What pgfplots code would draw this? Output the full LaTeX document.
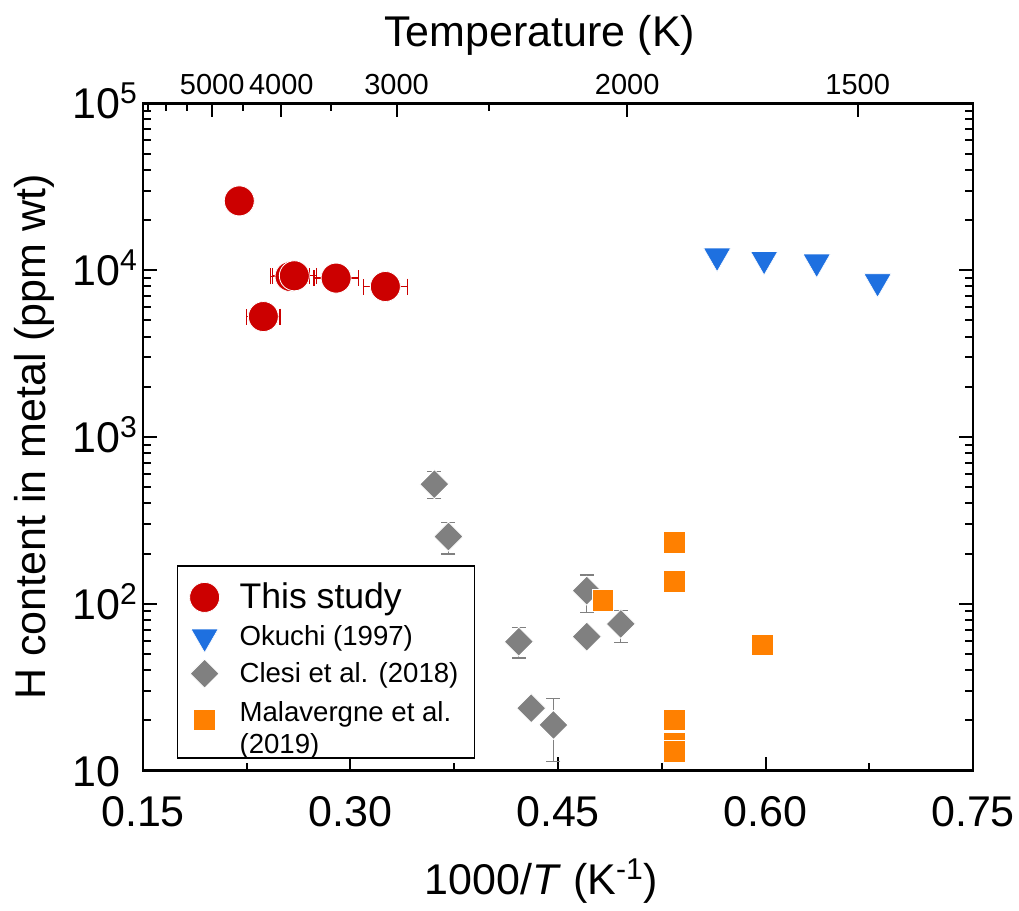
\documentclass[border=0pt]{standalone}
\usepackage{pgfplots}
\pgfplotsset{compat=1.18}
\usepackage{fontspec}
\setmainfont{Liberation Sans}
\definecolor{cred}{RGB}{204,0,0}
\definecolor{cblue}{RGB}{30,112,224}
\definecolor{cgray}{RGB}{128,128,128}
\definecolor{corange}{RGB}{255,128,0}
\newcommand{\bigf}{\fontsize{21.5}{25}\selectfont}

\pgfplotstableread{
x y ex
0.2196 26000 0.003
0.2370 5270 0.012
0.2563 9160 0.014
0.2594 9250 0.016
0.2896 8960 0.016
0.3252 7980 0.016
}\thisstudy

\pgfplotstableread{
x y
0.565 12160
0.599 11610
0.637 11190
0.681 8530
}\okuchi

\pgfplotstableread{
x y ep em
0.3606 521 100 91
0.3708 253 54 54
0.4708 120 29 31
0.4708 63.6 0 0
0.4954 75.8 15 17
0.4217 59.3 13 12
0.4306 23.7 0 0
0.4467 18.8 8.4 7.5
}\clesi

\pgfplotstableread{
x y
0.534 234
0.534 136
0.4824 104.5
0.5978 56.7
0.534 20.1
0.534 14.6
0.534 13.1
}\malav

\begin{document}
\begin{tikzpicture}
\begin{axis}[
  name=main,
  scale only axis,
  width=415pt, height=333.7pt,
  xmin=0.15, xmax=0.75,
  ymode=log, ymin=10, ymax=100000,
  xtick={0.15,0.30,0.45,0.60,0.75},
  xticklabels={0.15,0.30,0.45,0.60,0.75},
  minor xtick={0.225,0.375,0.525,0.675},
  ytick={10,100,1000,10000,100000},
  yticklabels={10,10\textsuperscript{2},10\textsuperscript{3},10\textsuperscript{4},10\textsuperscript{5}},
  minor ytick={20,30,40,50,60,70,80,90,200,300,400,500,600,700,800,900,2000,3000,4000,5000,6000,7000,8000,9000,20000,30000,40000,50000,60000,70000,80000,90000},
  tick align=inside,
  xtick pos=lower,
  ytick pos=both,
  major tick length=7pt, minor tick length=4pt,
  axis line style={line width=1.3pt},
  every tick/.style={black, line width=1pt},
  xticklabel style={font=\bigf, anchor=center, yshift=-20.5pt, inner sep=0pt},
  yticklabel style={font=\bigf, anchor=base west, xshift=-35.5pt, yshift=-7.7pt, inner sep=0pt},
  xlabel={1000/\textit{T} (K\textsuperscript{-1})},
  ylabel={H content in metal (ppm wt)},
  xlabel style={font=\bigf, at={(axis description cs:0.48,-0.166)}, anchor=center},
  ylabel style={font=\bigf, at={(axis description cs:-0.131,0.5)}, anchor=center, rotate=0},
  legend style={at={(axis description cs:0.0406,0.308)}, anchor=north west,
    draw=black, line width=0.9pt, font=\fontsize{13.8}{16}\selectfont,
    cells={anchor=west}, inner xsep=6pt, inner ysep=6.5pt, row sep=2.8pt,
    /tikz/every odd column/.append style={column sep=8pt}},
  legend cell align=left,
]
\addplot[only marks, mark=*, mark size=7.5pt, color=cred,
  mark options={fill=cred, draw=white, line width=0.4pt},
  error bars/.cd, x dir=both, x explicit,
  error bar style={cred, line width=0.6pt},
  error mark options={rotate=90, mark size=4pt, cred, line width=0.6pt}]
  table[x=x, y=y, x error=ex] {\thisstudy};
\addlegendentry{\fontsize{17.8}{20}\selectfont This study}

\addplot[only marks, mark=triangle*, mark size=7.8pt, color=cblue,
  mark options={rotate=180, fill=cblue, draw=white, line width=0.3pt}]
  table[x=x, y=y] {\okuchi};
\addlegendentry{Okuchi (1997)}

\addplot[only marks, mark=square*, mark size=5.13pt, color=cgray,
  mark options={rotate=45, fill=cgray, draw=white, line width=0.4pt},
  error bars/.cd, y dir=both, y explicit,
  error bar style={cgray, line width=0.6pt},
  error mark options={rotate=90, mark size=3.5pt, cgray, line width=0.6pt}]
  table[x=x, y=y, y error plus=ep, y error minus=em] {\clesi};
\addlegendentry{Clesi et al. (2018)\hspace{9pt}}

\addplot[only marks, mark=square*, mark size=5.4pt, color=corange,
  mark options={fill=corange, draw=white, line width=0.4pt}]
  table[x=x, y=y] {\malav};
\addlegendentry{\begin{tabular}{@{}l@{}}Malavergne et al.\\(2019)\end{tabular}}
\end{axis}

\begin{axis}[
  scale only axis,
  width=415pt, height=333.7pt,
  xmin=0.15, xmax=0.75, ymin=0, ymax=1,
  axis x line*=top,
  hide y axis,
  tick align=inside,
  xtick={0.2,0.25,0.333333,0.5,0.666667},
  xticklabels={5000,4000,3000,2000,1500},
  minor xtick={0.153846,0.166667,0.181818,0.222222,0.285714,0.4},
  major tick length=7pt, minor tick length=4pt,
  axis line style={line width=1.3pt},
  every tick/.style={black, line width=1pt},
  xticklabel style={font=\fontsize{14.5}{17}\selectfont, anchor=center, yshift=9.5pt, inner sep=0pt},
  xlabel={Temperature (K)},
  xlabel style={font=\bigf, at={(axis description cs:0.478,1.102)}, anchor=center},
]
\end{axis}
\path (main.south west) ++(-71.5pt,-67.65pt) coordinate (bbl);
\path (main.north east) ++(23pt,51.65pt) coordinate (btr);
\path (bbl) rectangle (btr);
\end{tikzpicture}
\end{document}
